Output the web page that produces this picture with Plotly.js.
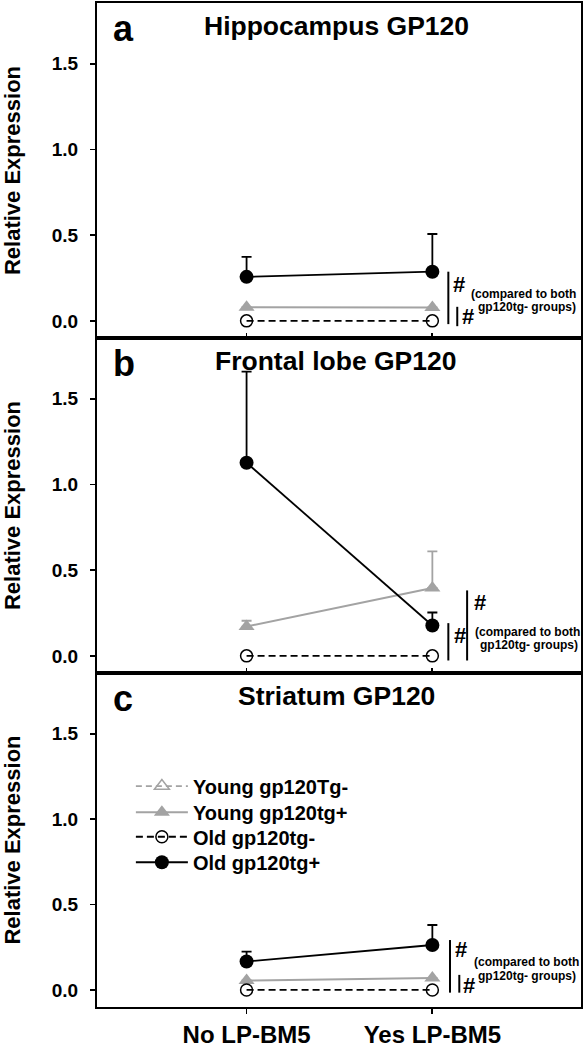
<!DOCTYPE html>
<html>
<head>
<meta charset="utf-8">
<script src="https://cdn.plot.ly/plotly-3.0.1.min.js"></script>
<style>html,body{margin:0;padding:0;background:#fff;}#chart{width:585px;height:1050px;}</style>
</head>
<body>
<div id="chart"></div>
<script>
// ---------- data ----------
const categories = ['No LP-BM5', 'Yes LP-BM5'];
const panelTitles = ['Hippocampus GP120', 'Frontal lobe GP120', 'Striatum GP120'];
const panelLetters = ['a', 'b', 'c'];
const seriesNames = ['Young gp120Tg-', 'Young gp120tg+', 'Old gp120tg-', 'Old gp120tg+'];
const yTickVals = [0, 0.5, 1.0, 1.5];
const yTickText = ['0.0', '0.5', '1.0', '1.5'];
const sigMark = '#';
const sigNoteLine1 = '(compared to both';
const sigNoteLine2 = 'gp120tg- groups)';

// Hippocampus
const hippoYoungNeg = [null, null];
const hippoYoungPos = [0.08, 0.078];
const hippoYoungPosErr = [null, null];
const hippoOldNeg = [0, 0];
const hippoOldPos = [0.257, 0.287];
const hippoOldPosErr = [0.117, 0.22];

// Frontal lobe
const frontYoungNeg = [null, null];
const frontYoungPos = [0.171, 0.396];
const frontYoungPosErr = [0.034, 0.214];
const frontOldNeg = [0, 0];
const frontOldPos = [1.127, 0.177];
const frontOldPosErr = [0.532, 0.076];

// Striatum
const striYoungNeg = [null, null];
const striYoungPos = [0.055, 0.07];
const striYoungPosErr = [null, null];
const striOldNeg = [0, 0];
const striOldPos = [0.166, 0.263];
const striOldPosErr = [0.058, 0.117];

// ---------- styling ----------
const FONT = 'Liberation Sans, Arial, Helvetica, sans-serif';
const GRAY = '#a3a3a3';
const BLACK = '#000000';

const panelData = [
  {yn: hippoYoungNeg, yp: hippoYoungPos, ype: hippoYoungPosErr, on: hippoOldNeg, op: hippoOldPos, ope: hippoOldPosErr},
  {yn: frontYoungNeg, yp: frontYoungPos, ype: frontYoungPosErr, on: frontOldNeg, op: frontOldPos, ope: frontOldPosErr},
  {yn: striYoungNeg, yp: striYoungPos, ype: striYoungPosErr, on: striOldNeg, op: striOldPos, ope: striOldPosErr}
];

function upErr(arr, color) {
  return {
    type: 'data', symmetric: false,
    array: arr, arrayminus: arr.map(v => v == null ? null : 0),
    color: color, thickness: 1.8, width: 5, visible: true
  };
}

// legend rows (one small legend per series, placed in panel c)
const legendRowsY = [0.2514, 0.2264, 0.2031, 0.1788];
const legendIds = ['legend', 'legend2', 'legend3', 'legend4'];

const traces = [];
panelData.forEach((p, i) => {
  const xa = i === 0 ? 'x' : 'x' + (i + 1);
  const ya = i === 0 ? 'y' : 'y' + (i + 1);
  const show = i === 2;
  traces.push({
    x: categories, y: p.yn, name: seriesNames[0], showlegend: show, legend: legendIds[0],
    xaxis: xa, yaxis: ya, mode: 'lines+markers', type: 'scatter',
    line: {color: GRAY, width: 1.8, dash: '6px,4px'},
    marker: {symbol: 'triangle-up-open', size: 13, color: GRAY, line: {color: GRAY, width: 1.5}}
  });
  traces.push({
    x: categories, y: p.yp, name: seriesNames[1], showlegend: show, legend: legendIds[1],
    xaxis: xa, yaxis: ya, mode: 'lines+markers', type: 'scatter',
    line: {color: GRAY, width: 2},
    marker: {symbol: 'triangle-up', size: 14, color: GRAY},
    error_y: upErr(p.ype, GRAY)
  });
  traces.push({
    x: categories, y: p.on, name: seriesNames[2], showlegend: show, legend: legendIds[2],
    xaxis: xa, yaxis: ya, mode: 'lines+markers', type: 'scatter',
    line: {color: BLACK, width: 1.8, dash: '7px,4px'},
    marker: {symbol: 'circle-open', size: 12, color: BLACK, line: {color: BLACK, width: 1.5}}
  });
  traces.push({
    x: categories, y: p.op, name: seriesNames[3], showlegend: show, legend: legendIds[3],
    xaxis: xa, yaxis: ya, mode: 'lines+markers', type: 'scatter',
    line: {color: BLACK, width: 1.8},
    marker: {symbol: 'circle', size: 14, color: BLACK},
    error_y: upErr(p.ope, BLACK)
  });
});

// panel geometry (pixels of the 1050 px tall page)
const H = 1050;
const panelPx = [[3, 338], [338, 673], [673, 1007]];
const domains = panelPx.map(([t, b]) => [1 - b / H, 1 - t / H]);

function yAxis(i) {
  return {
    domain: domains[i], range: [-0.1, 1.855], anchor: i === 0 ? 'x' : 'x' + (i + 1),
    tickmode: 'array', tickvals: yTickVals, ticktext: yTickText,
    ticks: 'outside', ticklen: 5, tickwidth: 1.8, tickcolor: BLACK,
    ticklabelstandoff: 8,
    showline: true, linecolor: BLACK, linewidth: 2, mirror: true,
    showgrid: false, zeroline: false,
    tickfont: {family: FONT, size: 19, color: BLACK, weight: 700},
    title: {text: 'Relative Expression', font: {family: FONT, size: 22, color: BLACK, weight: 700}, standoff: 26},
    fixedrange: true
  };
}
function xAxis(i) {
  const last = i === 2;
  return {
    domain: [0, 1], type: 'category', range: [-0.805, 1.8], anchor: i === 0 ? 'y' : 'y' + (i + 1),
    ticks: last ? 'outside' : 'inside', ticklen: 5, tickwidth: 1.8, tickcolor: BLACK,
    showticklabels: last,
    showline: true, linecolor: BLACK, linewidth: 2, mirror: true,
    showgrid: false, zeroline: false,
    tickfont: {family: FONT, size: 24, color: BLACK, weight: 700},
    fixedrange: true
  };
}

const annotations = [];
const shapes = [];
const sigLayout = [
  {h1: [1.098, 0.215], h2: [1.150, 0.025], n1: [1.492, 0.158], n2: [1.507, 0.082], b1: [1.086, -0.019, 0.287], b2: [1.134, -0.031, 0.082]},
  {h1: [1.103, 0.121], h2: [1.211, 0.314], n1: [1.512, 0.142], n2: [1.519, 0.066], b1: [1.086, -0.027, 0.191], b2: [1.187, -0.027, 0.382]},
  {h1: [1.113, 0.235], h2: [1.155, 0.027], n1: [1.506, 0.161], n2: [1.512, 0.079], b1: [1.095, -0.016, 0.292], b2: [1.145, -0.016, 0.088]}
];
sigLayout.forEach((s, i) => {
  const xr = i === 0 ? 'x' : 'x' + (i + 1);
  const yr = i === 0 ? 'y' : 'y' + (i + 1);
  annotations.push({xref: xr + ' domain', yref: yr + ' domain', x: 0.494, y: 0.93, xanchor: 'center', yanchor: 'middle',
    text: panelTitles[i], showarrow: false, font: {family: FONT, size: 26.5, color: BLACK, weight: 700}});
  annotations.push({xref: xr + ' domain', yref: yr + ' domain', x: 0.028, y: 0.925, xanchor: 'left', yanchor: 'middle',
    text: panelLetters[i], showarrow: false, font: {family: FONT, size: 36, color: BLACK, weight: 700}});
  [s.h1, s.h2].forEach(h => annotations.push({xref: xr, yref: yr, x: h[0], y: h[1], xanchor: 'left', yanchor: 'middle',
    text: sigMark, showarrow: false, font: {family: FONT, size: 22, color: BLACK, weight: 700}}));
  annotations.push({xref: xr, yref: yr, x: s.n1[0], y: s.n1[1], xanchor: 'center', yanchor: 'middle',
    text: sigNoteLine1, showarrow: false, font: {family: FONT, size: 12, color: BLACK, weight: 700}});
  annotations.push({xref: xr, yref: yr, x: s.n2[0], y: s.n2[1], xanchor: 'center', yanchor: 'middle',
    text: sigNoteLine2, showarrow: false, font: {family: FONT, size: 12, color: BLACK, weight: 700}});
  [s.b1, s.b2].forEach(b => shapes.push({type: 'line', xref: xr, yref: yr, x0: b[0], x1: b[0], y0: b[1], y1: b[2],
    line: {color: BLACK, width: 2}}));
});

function legendBox(yPos) {
  return {
    x: 0.070, xref: 'paper', xanchor: 'left', y: yPos, yanchor: 'middle',
    bgcolor: 'rgba(0,0,0,0)', borderwidth: 0,
    font: {family: FONT, size: 20, color: BLACK, weight: 700},
    itemwidth: 52
  };
}

const layout = {
  width: 585, height: 1050,
  margin: {l: 97, r: 4, t: 0, b: 0},
  paper_bgcolor: '#ffffff', plot_bgcolor: '#ffffff',
  font: {family: FONT, color: BLACK},
  showlegend: true,
  legend: legendBox(legendRowsY[0]),
  legend2: legendBox(legendRowsY[1]),
  legend3: legendBox(legendRowsY[2]),
  legend4: legendBox(legendRowsY[3]),
  xaxis: xAxis(0), yaxis: yAxis(0),
  xaxis2: xAxis(1), yaxis2: yAxis(1),
  xaxis3: xAxis(2), yaxis3: yAxis(2),
  annotations: annotations,
  shapes: shapes
};

Plotly.newPlot('chart', traces, layout, {staticPlot: true, displayModeBar: false});
</script>
</body>
</html>
